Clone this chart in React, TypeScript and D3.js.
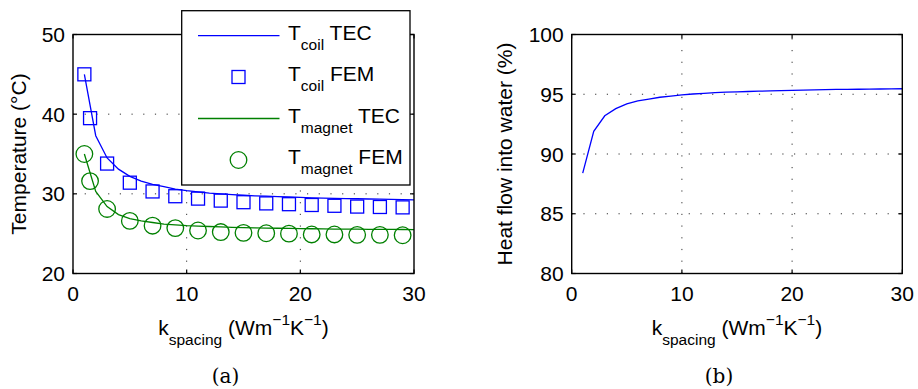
import React, { useEffect } from "react";
import * as d3 from "d3";

// ---- data ----
const kLine: number[] = [1,2,3,4,5,6,7,8,9,10,11,12,13,14,15,16,17,18,19,20,21,22,23,24,25,26,27,28,29,30];
const coilTEC: number[] = [45.0,37.3,34.5,33.1,32.2,31.6,31.2,30.9,30.6,30.4,30.25,30.1,30.0,29.9,29.82,29.75,29.7,29.65,29.6,29.55,29.5,29.47,29.44,29.41,29.38,29.35,29.33,29.3,29.28,29.25];
const magnetTEC: number[] = [35.0,30.3,28.4,27.4,26.9,26.6,26.4,26.2,26.1,26.0,25.95,25.9,25.85,25.8,25.75,25.72,25.7,25.68,25.66,25.64,25.62,25.6,25.58,25.57,25.56,25.55,25.54,25.53,25.52,25.5];
const kFEM: number[] = [1,1.5,3,5,7,9,11,13,15,17,19,21,23,25,27,29];
const coilFEM: number[] = [45.0,39.5,33.8,31.4,30.3,29.7,29.4,29.15,28.95,28.8,28.7,28.6,28.5,28.4,28.35,28.3];
const magnetFEM: number[] = [35.0,31.6,28.1,26.6,26.0,25.7,25.4,25.2,25.1,25.05,25.0,24.9,24.9,24.85,24.85,24.8];
const heatFlow: number[] = [88.4,91.9,93.2,93.8,94.2,94.45,94.6,94.75,94.85,94.95,95.02,95.08,95.13,95.17,95.2,95.23,95.26,95.28,95.3,95.33,95.35,95.37,95.38,95.4,95.41,95.42,95.43,95.44,95.45,95.46];

const xTicks: number[] = [0, 10, 20, 30];
const yTicksA: number[] = [20, 30, 40, 50];
const yTicksB: number[] = [80, 85, 90, 95, 100];

const BLUE = "#0000ff";
const GREEN = "#008000";
const SANS = "'Liberation Sans', Arial, sans-serif";
const SERIF = "'DejaVu Serif', serif";
const FS = 21;
const SUB = 15.5;

type Panel = {
  x0: number; x1: number; y0: number; y1: number;
  yDomain: [number, number]; yTicks: number[];
};

function Axes({ p, x, y, children, ylabel, ylabelX, caption }: any) {
  const tickLen = 4;
  return (
    <g>
      {/* grid */}
      {xTicks.slice(1, -1).map((t) => (
        <line key={"gx" + t} x1={x(t)} x2={x(t)} y1={p.y1} y2={p.y0}
          stroke="#333" strokeWidth={1} strokeDasharray="1.2,10.5" />
      ))}
      {p.yTicks.slice(1, -1).map((t: number) => (
        <line key={"gy" + t} x1={p.x0} x2={p.x1} y1={y(t)} y2={y(t)}
          stroke="#333" strokeWidth={1} strokeDasharray="1.2,10.5" />
      ))}
      {children}
      {/* ticks */}
      {xTicks.map((t) => (
        <g key={"tx" + t}>
          <line x1={x(t)} x2={x(t)} y1={p.y1} y2={p.y1 - tickLen} stroke="#000" strokeWidth={1.2} />
          <line x1={x(t)} x2={x(t)} y1={p.y0} y2={p.y0 + tickLen} stroke="#000" strokeWidth={1.2} />
          <text x={x(t)} y={301} textAnchor="middle" fontFamily={SANS} fontSize={FS}>{t}</text>
        </g>
      ))}
      {p.yTicks.map((t: number) => (
        <g key={"ty" + t}>
          <line x1={p.x0} x2={p.x0 + tickLen} y1={y(t)} y2={y(t)} stroke="#000" strokeWidth={1.2} />
          <line x1={p.x1} x2={p.x1 - tickLen} y1={y(t)} y2={y(t)} stroke="#000" strokeWidth={1.2} />
          <text x={p.x0 - 8} y={y(t) + 7.5} textAnchor="end" fontFamily={SANS} fontSize={FS}>{t}</text>
        </g>
      ))}
      <rect x={p.x0} y={p.y0} width={p.x1 - p.x0} height={p.y1 - p.y0} fill="none" stroke="#000" strokeWidth={1.4} />
      {/* x label */}
      <text x={(p.x0 + p.x1) / 2} y={335} textAnchor="middle" fontFamily={SANS} fontSize={FS}>
        <tspan>k</tspan>
        <tspan dy={10} fontSize={SUB}>spacing</tspan>
        <tspan dy={-10}> (Wm</tspan>
        <tspan dy={-10} fontSize={SUB}>−1</tspan>
        <tspan dy={10}>K</tspan>
        <tspan dy={-10} fontSize={SUB}>−1</tspan>
        <tspan dy={10}>)</tspan>
      </text>
      <text transform={`translate(${ylabelX},${(p.y0 + p.y1) / 2}) rotate(-90)`} textAnchor="middle"
        fontFamily={SANS} fontSize={FS}>{ylabel}</text>
      <text x={(p.x0 + p.x1) / 2 - 18} y={383} textAnchor="middle" fontFamily={SERIF} fontSize={20}>{caption}</text>
    </g>
  );
}

export default function App() {
  useEffect(() => {
    document.body.style.margin = "0";
  }, []);

  const pA: Panel = { x0: 73, x1: 414, y0: 34.5, y1: 273.5, yDomain: [20, 50], yTicks: yTicksA };
  const pB: Panel = { x0: 571.7, x1: 902.3, y0: 34.5, y1: 273.5, yDomain: [80, 100], yTicks: yTicksB };

  const xA = d3.scaleLinear().domain([0, 30]).range([pA.x0, pA.x1]);
  const yA = d3.scaleLinear().domain(pA.yDomain).range([pA.y1, pA.y0]);
  const xB = d3.scaleLinear().domain([0, 30]).range([pB.x0, pB.x1]);
  const yB = d3.scaleLinear().domain(pB.yDomain).range([pB.y1, pB.y0]);

  const lineA = (vals: number[]) =>
    d3.line<number>().x((_, i) => xA(kLine[i])).y((d) => yA(d))(vals) || "";
  const lineB = d3.line<number>().x((_, i) => xB(kLine[i])).y((d) => yB(d))(heatFlow) || "";

  const sq = 13;
  const r = 8.3;

  // legend
  const lg = { x: 181.7, y: 10.7, w: 228.3, h: 174.3 };
  const rows = [
    { y: 35.7, kind: "line", color: BLUE, sub: "coil", rest: " TEC" },
    { y: 77, kind: "square", color: BLUE, sub: "coil", rest: " FEM" },
    { y: 118.5, kind: "line", color: GREEN, sub: "magnet", rest: " TEC" },
    { y: 160, kind: "circle", color: GREEN, sub: "magnet", rest: " FEM" },
  ];

  return (
    <svg width={918} height={389} style={{ position: "absolute", left: 0, top: 0, background: "#fff" }}>
      <rect x={0} y={0} width={918} height={389} fill="#fff" />
      <Axes p={pA} x={xA} y={yA} ylabel="Temperature (°C)" ylabelX={25.5} caption="(a)">
        <path d={lineA(coilTEC)} fill="none" stroke={BLUE} strokeWidth={1.3} />
        <path d={lineA(magnetTEC)} fill="none" stroke={GREEN} strokeWidth={1.3} />
        {kFEM.map((k, i) => (
          <rect key={"s" + i} x={xA(k) - sq / 2} y={yA(coilFEM[i]) - sq / 2} width={sq} height={sq}
            fill="none" stroke={BLUE} strokeWidth={1.3} />
        ))}
        {kFEM.map((k, i) => (
          <circle key={"c" + i} cx={xA(k)} cy={yA(magnetFEM[i])} r={r}
            fill="none" stroke={GREEN} strokeWidth={1.3} />
        ))}
      </Axes>
      <Axes p={pB} x={xB} y={yB} ylabel="Heat flow into water (%)" ylabelX={511.5} caption="(b)">
        <path d={lineB} fill="none" stroke={BLUE} strokeWidth={1.3} />
      </Axes>
      {/* legend */}
      <g>
        <rect x={lg.x} y={lg.y} width={lg.w} height={lg.h} fill="#fff" stroke="#000" strokeWidth={1.3} />
        {rows.map((row, i) => (
          <g key={"lg" + i}>
            {row.kind === "line" && (
              <line x1={198} x2={279.5} y1={row.y} y2={row.y} stroke={row.color} strokeWidth={1.3} />
            )}
            {row.kind === "square" && (
              <rect x={238.5 - sq / 2} y={row.y - sq / 2} width={sq} height={sq} fill="none" stroke={row.color} strokeWidth={1.3} />
            )}
            {row.kind === "circle" && (
              <circle cx={238.5} cy={row.y} r={r} fill="none" stroke={row.color} strokeWidth={1.3} />
            )}
            <text x={288} y={row.y + 4} fontFamily={SANS} fontSize={FS}>
              <tspan>T</tspan>
              <tspan dy={10} fontSize={SUB}>{row.sub}</tspan>
              <tspan dy={-10}>{row.rest}</tspan>
            </text>
          </g>
        ))}
      </g>
    </svg>
  );
}
